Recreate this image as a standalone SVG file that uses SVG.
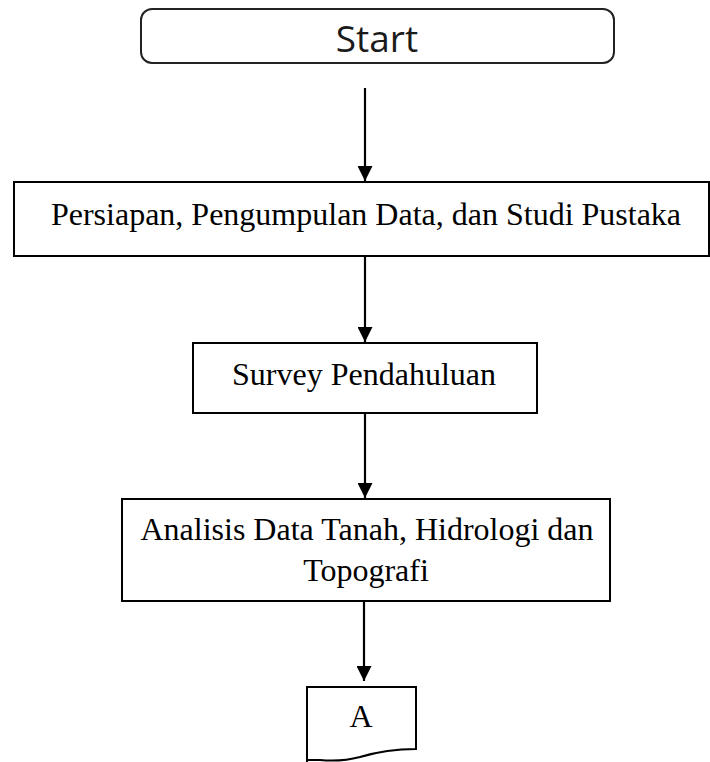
<svg xmlns="http://www.w3.org/2000/svg" width="710" height="762" viewBox="0 0 710 762">
<defs>
<marker id="ah" viewBox="0 0 10 10" refX="10" refY="5" markerWidth="15" markerHeight="15" markerUnits="userSpaceOnUse" orient="auto">
<path d="M0,0 L10,5 L0,10 Z" fill="#000"/>
</marker>
<style>
.box{fill:#fff;stroke:#000;stroke-width:2}
.t{font-family:"Liberation Serif","Times New Roman",serif;font-size:32px;fill:#000;text-anchor:middle}
.s{font-family:"Open Sans","Noto Sans",sans-serif;font-size:37px;fill:#1a1a1a;text-anchor:middle}
.c{stroke:#000;stroke-width:2.2;fill:none}
</style>
</defs>
<rect width="710" height="762" fill="#fff"/>
<g id="start">
<rect class="box" x="141" y="9" width="473" height="54" rx="11" style="stroke:#222"/>
<text class="s" x="377" y="52">Start</text>
</g>
<g id="persiapan">
<rect class="box" x="14" y="182" width="695" height="74"/>
<text class="t" x="366" y="225">Persiapan, Pengumpulan Data, dan Studi Pustaka</text>
</g>
<g id="survey">
<rect class="box" x="193" y="343" width="344" height="70"/>
<text class="t" x="364" y="385">Survey Pendahuluan</text>
</g>
<g id="analisis">
<rect class="box" x="122" y="499" width="488" height="102"/>
<text class="t" x="367" y="540">Analisis Data Tanah, Hidrologi dan</text>
<text class="t" x="366" y="581">Topografi</text>
</g>
<g id="a">
<path class="box" d="M307,762 V687 H416 V749 C398,749 380,751 360,757 C345,761 330,761 320,760 H307"/>
<text class="t" x="361" y="727">A</text>
</g>
<g id="connectors">
<line class="c" x1="365" y1="88" x2="365" y2="181" marker-end="url(#ah)"/>
<line class="c" x1="365" y1="256" x2="365" y2="342" marker-end="url(#ah)"/>
<line class="c" x1="365" y1="413" x2="365" y2="498" marker-end="url(#ah)"/>
<line class="c" x1="364" y1="601" x2="364" y2="681" marker-end="url(#ah)"/>
</g>
</svg>
